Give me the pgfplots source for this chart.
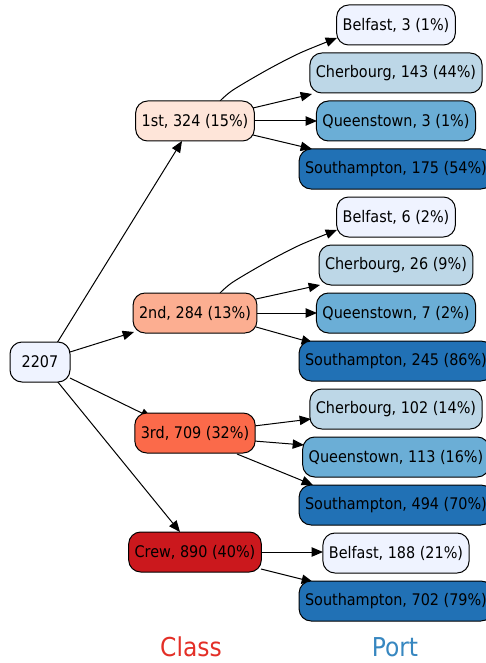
\documentclass[border=0pt]{standalone}
\usepackage{pgfplots}
\pgfplotsset{compat=1.18}
\usetikzlibrary{arrows.meta}
\usepackage{fontspec}
\setmainfont{DejaVu Sans Condensed}

\definecolor{root}{HTML}{EFF3FF}
\definecolor{rA}{HTML}{FEE5D9}
\definecolor{rB}{HTML}{FCAE91}
\definecolor{rC}{HTML}{FB6A4A}
\definecolor{rD}{HTML}{CB181D}
\definecolor{bA}{HTML}{EFF3FF}
\definecolor{bB}{HTML}{BDD7E7}
\definecolor{bC}{HTML}{6BAED6}
\definecolor{bD}{HTML}{2171B5}
\definecolor{classred}{HTML}{E32F27}
\definecolor{portblue}{HTML}{3787C0}

\pgfplotsset{
  box/.style={draw=none, mark=none, point meta=explicit symbolic, nodes near coords,
    nodes near coords style={anchor=center, draw=black, line width=0.75pt, rounded corners=9pt,
      minimum height=30pt, inner xsep=4.5pt, font=\fontsize{12}{14}\selectfont, text=black, fill=#1}},
  edge/.style={-{Triangle[length=8.5pt,width=7pt]}, line width=0.75pt, black},
}

\begin{document}
\begin{tikzpicture}
\begin{axis}[name=ax, x=0.75pt, y=0.75pt, xmin=0, xmax=485, ymin=0, ymax=663,
  y dir=reverse, hide axis, clip=false, scale only axis]
% edges: root -> class
\addplot[edge] coordinates {(57,343) (182,141)};
\addplot[edge] coordinates {(70,352) (134,332)};
\addplot[edge] coordinates {(70,378) (152,418)};
\addplot[edge] coordinates {(57,381) (180,532)};
% 1st -> port
\addplot[edge, smooth] coordinates {(220,101) (233,90) (267,70) (300,53) (337,38)};
\addplot[edge] coordinates {(253,108) (312,94)};
\addplot[edge] coordinates {(253,121) (317,121)};
\addplot[edge] coordinates {(253,135) (312,149)};
% 2nd -> port
\addplot[edge, smooth] coordinates {(220,293) (233,282) (267,262) (300,245) (337,230)};
\addplot[edge] coordinates {(256,299) (320,285)};
\addplot[edge] coordinates {(256,313) (317,313)};
\addplot[edge] coordinates {(256,327) (313,343)};
% 3rd -> port
\addplot[edge] coordinates {(254,426) (311,419)};
\addplot[edge] coordinates {(254,441) (304,445)};
\addplot[edge] coordinates {(237,454) (313,485)};
% Crew -> port
\addplot[edge] coordinates {(261,552) (323,552)};
\addplot[edge] coordinates {(261,569) (313,582)};

% nodes
\addplot[box=root, nodes near coords style={minimum width=45pt}] coordinates {(40,362) [2207]};
\addplot[box=rA] coordinates {(195,121) [1st, 324 (15\%)]};
\addplot[box=rB] coordinates {(195,313) [2nd, 284 (13\%)]};
\addplot[box=rC] coordinates {(195,433) [3rd, 709 (32\%)]};
\addplot[box=rD] coordinates {(195,552) [Crew, 890 (40\%)]};
\addplot[box=bA] coordinates {(396,25) [Belfast, 3 (1\%)] (396,217) [Belfast, 6 (2\%)] (396,553) [Belfast, 188 (21\%)]};
\addplot[box=bB] coordinates {(396,73) [Cherbourg, 143 (44\%)] (396,265) [Cherbourg, 26 (9\%)] (396,409) [Cherbourg, 102 (14\%)]};
\addplot[box=bC] coordinates {(396,121) [Queenstown, 3 (1\%)] (396,313) [Queenstown, 7 (2\%)] (396,457) [Queenstown, 113 (16\%)]};
\addplot[box=bD] coordinates {(396,169) [Southampton, 175 (54\%)] (396,361) [Southampton, 245 (86\%)] (396,505) [Southampton, 494 (70\%)] (396,601) [Southampton, 702 (79\%)]};

\node[text=classred, font=\fontsize{19.5}{22}\selectfont] at (axis cs:191,647) {Class};
\node[text=portblue, font=\fontsize{19.5}{22}\selectfont] at (axis cs:395,647) {Port};
\end{axis}
\pgfresetboundingbox
\path[use as bounding box] (ax.south west) rectangle (ax.north east);
\end{tikzpicture}
\end{document}
